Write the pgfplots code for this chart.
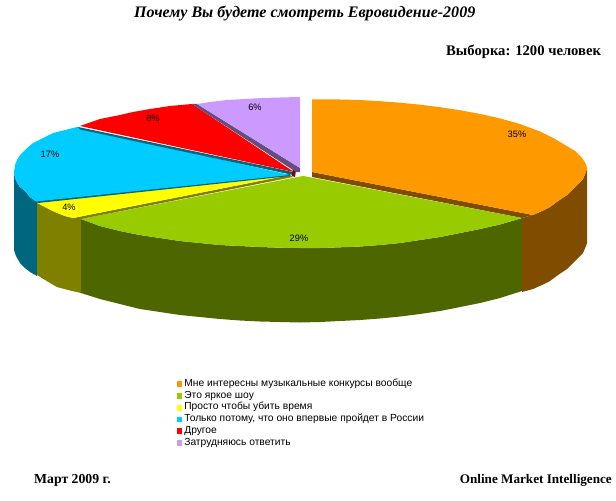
\documentclass[border=0pt]{standalone}
\usepackage{fontspec}
\setmainfont{Liberation Serif}
\newfontfamily\arial{Liberation Sans}
\usepackage{pgfplots}
\pgfplotsset{compat=1.18}

\definecolor{cOrange}{RGB}{255,153,0}
\definecolor{cGreen}{RGB}{153,204,0}
\definecolor{cYellow}{RGB}{255,255,0}
\definecolor{cCyan}{RGB}{0,204,255}
\definecolor{cRed}{RGB}{255,0,0}
\definecolor{cPurple}{RGB}{204,153,255}
\definecolor{sOrange}{RGB}{128,77,0}
\definecolor{sGreen}{RGB}{77,102,0}
\definecolor{sYellow}{RGB}{128,128,0}
\definecolor{sCyan}{RGB}{0,102,128}
\definecolor{sRed}{RGB}{128,0,0}
\definecolor{sPurple}{RGB}{102,77,128}

\begin{document}
\begin{tikzpicture}
\useasboundingbox (0,0) rectangle (616bp,501bp);
\begin{axis}[
  at={(0,0)}, anchor=south west,
  scale only axis, width=616bp, height=501bp,
  xmin=0, xmax=616, ymin=0, ymax=501,
  y dir=reverse,
  hide axis,
  legend cell align=left,
  legend image code/.code={\path[#1,draw=none] (0bp,-2.9bp) rectangle (5.8bp,2.9bp);},
  legend style={
    at={(axis cs:176.5,378.5)}, anchor=north west,
    draw=none, fill=none, inner sep=0pt, outer sep=0pt,
    row sep=0pt, column sep=2bp,
    font=\arial\fontsize{10.3}{11}\selectfont,
    nodes={inner sep=0pt, text height=8bp, text depth=3.7bp},
  },
]
% side walls
\addplot[fill=sCyan,draw=none,forget plot] coordinates {
  (14,172) (14,250) (16,256) (20,263) (25,268) (30,272) (37,276) (37,202) (30,197) (25,191) (20,187) (18,184) (15,178)};
\addplot[fill=sYellow,draw=none,forget plot] coordinates {
  (37,202) (37,275) (45,280) (57,287) (68,290) (81,293) (81,218) (73,218) (65,216) (55,212) (45,207)};
\addplot[fill=sGreen,draw=none,forget plot] coordinates {
  (81,219) (81,293) (100,299) (120,304) (140,309) (160,312) (180,315) (200,317) (220,319) (240,320.5) (260,321.5) (280,322) (300,322.5)
  (320,322) (340,321) (360,320) (380,318.5) (400,316.5) (420,314) (440,311) (460,307) (480,303) (500,298) (522,291)
  (522,218) (500,224.5) (480,229) (460,233) (440,237) (420,240) (400,243) (380,245) (360,246.5) (340,247.3) (320,248) (300,248)
  (280,247.7) (260,247) (240,246) (220,245) (200,243) (180,241) (160,238) (140,235) (120,231) (100,226)};
\addplot[fill=sOrange,draw=none,forget plot] coordinates {
  (522,218) (533,215) (542,211) (550,207) (558,201) (567,195) (575,187) (583,179) (586,172) (587,168)
  (587,243) (586,246) (583,253) (575,261) (567,269) (558,275) (550,281) (542,285) (533,289) (522,292)};
\addplot[fill=sOrange,draw=none,forget plot] coordinates {
  (312,172) (533,215) (522,218) (312,177)};
% top faces
\addplot[fill=cOrange,draw=none] coordinates {
  (312,172) (312,99.5) (340,99.5) (360,100) (380,101.2) (400,102.7) (420,104.7) (440,107.2) (460,110.2) (480,113.9) (500,118.4) (520,124)
  (540,131.5) (555,139) (565,145) (575,151) (582,158) (586,164) (587,168)
  (586,172) (583,179) (575,187) (567,195) (558,201) (550,207) (542,211) (533,215)};
\addlegendentry{Мне интересны музыкальные конкурсы вообще}
\addplot[fill=cGreen,draw=none] coordinates {
  (303,176) (522,218) (500,224.5) (480,229) (460,233) (440,237) (420,240) (400,243) (380,245) (360,246.5) (340,247.3) (320,248) (300,248)
  (280,247.7) (260,247) (240,246) (220,245) (200,243) (180,241) (160,238) (140,235) (120,231) (100,226) (81,219)};
\addlegendentry{Это яркое шоу}
\addplot[fill=sYellow,draw=none,forget plot] coordinates {
  (293,177) (81,219) (73,218) (290,175)};
\addplot[fill=cYellow,draw=none] coordinates {
  (290,175) (73,218) (65,216) (55,212) (45,207) (37,203)};
\addlegendentry{Просто чтобы убить время}
\addplot[fill=sCyan,draw=none,forget plot] coordinates {
  (36,201) (290,174) (290,176) (38,203)};
\addplot[fill=cCyan,draw=none] coordinates {
  (290,175) (36,201.5) (30,197) (25,191) (20,187) (18,184) (15,178) (14,172) (15,165) (17,160) (20,155) (26,149) (33,143) (43,138) (53,133) (65,130) (77,127)};
\addlegendentry{Только потому, что оно впервые пройдет в России}
\addplot[fill=sCyan,draw=none,forget plot] coordinates {
  (78,127) (293,172) (293,175) (80,129.5)};
\addplot[fill=cRed,draw=none] coordinates {
  (294,172) (80,126) (100,119) (120,115) (133,112) (150,109) (170,106) (192,104)};
\addlegendentry{Другое}
\addplot[fill=sRed,draw=none,forget plot] coordinates {
  (292,176) (293,168) (296,170) (295,177)};
\addplot[fill=sPurple,draw=none,forget plot] coordinates {
  (192,104) (197,104) (300,168) (300,172) (296,172)};
\addplot[fill=cPurple,draw=none] coordinates {
  (197,104) (210,102) (227,100) (245,99) (263,98) (280,97.5) (300,97) (300,168)};
\addlegendentry{Затрудняюсь ответить}

% slice percentages
\foreach \px/\py/\lab in {517/134/35\%, 299/238/29\%, 50/154/17\%, 69/207/4\%, 153/118/8\%, 255/107/6\%}{
  \edef\tmp{\noexpand\node[font=\noexpand\arial\noexpand\fontsize{9.3}{10}\noexpand\selectfont] at (axis cs:\px,\py) {\lab};}
  \tmp
}
% captions
\node[inner sep=0pt,anchor=west,font=\bfseries\itshape\fontsize{16.1}{18}\selectfont] at (axis cs:134,13) {Почему Вы будете смотреть Евровидение-2009};
\node[inner sep=0pt,anchor=west,font=\bfseries\fontsize{14.7}{16}\selectfont] at (axis cs:446,52) {Выборка: 1200 человек};
\node[inner sep=0pt,anchor=west,font=\bfseries\fontsize{13.8}{15}\selectfont] at (axis cs:34,480) {Март 2009 г.};
\node[inner sep=0pt,anchor=east,font=\bfseries\fontsize{13.2}{15}\selectfont] at (axis cs:612,480) {Online Market Intelligence};
\end{axis}
\end{tikzpicture}
\end{document}
